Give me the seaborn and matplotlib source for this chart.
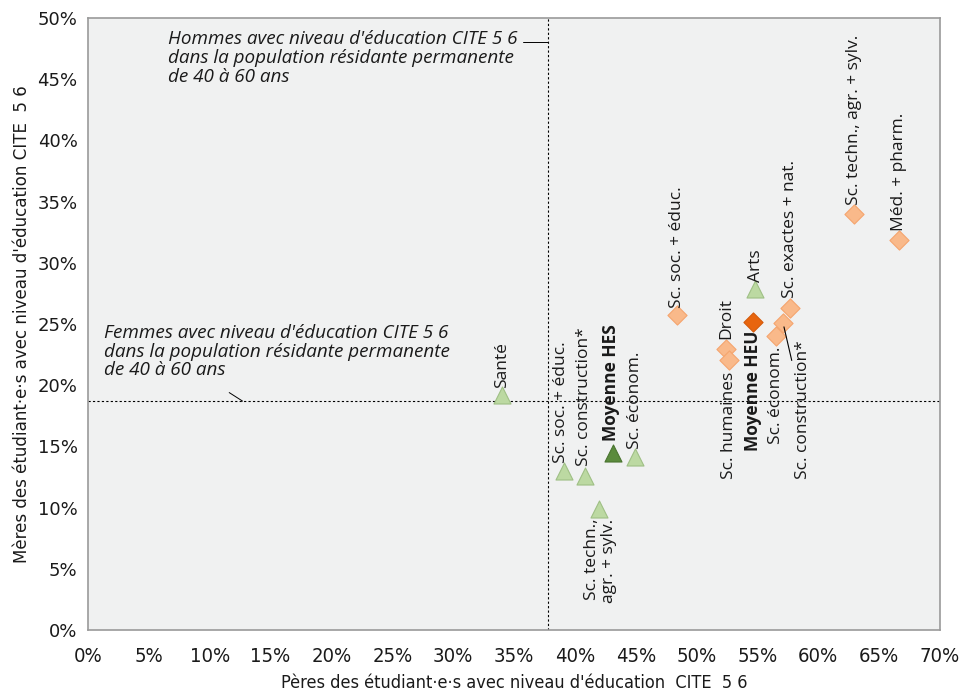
import pandas as pd
import numpy as np
import matplotlib
matplotlib.use('Agg')
import matplotlib.pyplot as plt
from matplotlib.ticker import PercentFormatter
import seaborn as sb

# HES (Hautes écoles spécialisées) - triangles
hes_names = ['Santé', 'Sc. soc. + éduc.', 'Sc. construction*', 'Sc. techn.,\nagr. + sylv.',
             'Moyenne HES', 'Sc. économ.', 'Arts']
hes_peres = [34.0, 39.1, 40.8, 42.0, 43.1, 44.9, 54.8]
hes_meres = [19.2, 13.0, 12.6, 9.9, 14.5, 14.1, 27.9]

# HEU (Hautes écoles universitaires) - diamonds
heu_names = ['Sc. soc. + éduc.', 'Droit', 'Sc. humaines', 'Moyenne HEU', 'Sc. économ.',
             'Sc. construction*', 'Sc. exactes + nat.', 'Sc. techn., agr. + sylv.', 'Méd. + pharm.']
heu_peres = [48.4, 52.4, 52.7, 54.6, 56.5, 57.1, 57.7, 62.9, 66.6]
heu_meres = [25.7, 23.0, 22.1, 25.2, 24.0, 25.1, 26.3, 34.0, 31.9]

hommes_ref = 37.8
femmes_ref = 18.7

# label placement (offset in pixels, above/below)
LBL = {('HES', 'Santé'): (0, 7), ('HES', 'Sc. soc. + éduc.'): (-3, 8),
       ('HES', 'Sc. construction*'): (-1, 10), ('HES', 'Moyenne HES'): (-2, 12),
       ('HES', 'Sc. économ.'): (0, 8), ('HES', 'Sc. techn.,\nagr. + sylv.'): (1, -10),
       ('HES', 'Arts'): (1, 7),
       ('HEU', 'Sc. soc. + éduc.'): (0, 7), ('HEU', 'Droit'): (0, 10),
       ('HEU', 'Sc. humaines'): (0, -12), ('HEU', 'Moyenne HEU'): (0, -9),
       ('HEU', 'Sc. économ.'): (0, -10), ('HEU', 'Sc. construction*'): (20, -17),
       ('HEU', 'Sc. exactes + nat.'): (0, 10), ('HEU', 'Sc. techn., agr. + sylv.'): (0, 9),
       ('HEU', 'Méd. + pharm.'): (0, 9)}

df = pd.concat([
    pd.DataFrame({'TYPE': 'HES', 'NAME': hes_names, 'PERES': hes_peres, 'MERES': hes_meres}),
    pd.DataFrame({'TYPE': 'HEU', 'NAME': heu_names, 'PERES': heu_peres, 'MERES': heu_meres}),
], ignore_index=True)
df['MOY'] = df.NAME.str.startswith('Moyenne')

COLORS = {('HES', False): ('#bcd9a2', '#9fbf85'), ('HES', True): ('#5b8b3d', '#4a7530'),
          ('HEU', False): ('#f9b98a', '#f5a56e'), ('HEU', True): ('#e8650e', '#d45a0a')}
MARKERS = {'HES': '^', 'HEU': 'D'}
SIZES = {'HES': 150, 'HEU': 95}

sb.set_style('white')
plt.rcParams['font.family'] = ['Open Sans', 'DejaVu Sans']

fig = plt.figure(figsize=(9.6, 6.93), dpi=100)
ax = fig.add_axes([0.0917, 0.0909, 0.8875, 0.883])
ax.set_facecolor('#f0f1f1')

for (typ, moy), grp in df.groupby(['TYPE', 'MOY']):
    face, edge = COLORS[(typ, moy)]
    sb.scatterplot(data=grp, x='PERES', y='MERES', marker=MARKERS[typ], s=SIZES[typ],
                   color=face, edgecolor=edge, linewidth=0.8, zorder=3, ax=ax, legend=False)

for _, r in df.iterrows():
    dx, dy = LBL[(r.TYPE, r.NAME)]
    kw = dict(rotation=90, ha='center', va='bottom' if dy > 0 else 'top',
              fontsize=12.5, fontweight='bold' if r.MOY else 'normal', linespacing=1.05,
              multialignment='right' if dy < 0 else 'left', color='#1a1a1a', zorder=4)
    if r.NAME == 'Sc. construction*' and r.TYPE == 'HEU':
        ax.annotate(r.NAME, xy=(r.PERES, r.MERES), xytext=(dx, dy), textcoords='offset pixels',
                    arrowprops=dict(arrowstyle='-', color='black', lw=0.8, shrinkA=0, shrinkB=3), **kw)
    else:
        ax.annotate(r.NAME, xy=(r.PERES, r.MERES), xytext=(dx, dy), textcoords='offset pixels', **kw)

ax.axvline(hommes_ref, color='black', lw=0.8, ls=(0, (2, 2)), zorder=2)
ax.axhline(femmes_ref, color='black', lw=0.8, ls=(0, (2, 2)), zorder=2)

ax.text(6.6, 49.0, "Hommes avec niveau d'éducation CITE 5 6\ndans la population résidante permanente\nde 40 à 60 ans",
        style='italic', fontsize=13.6, va='top', ha='left', linespacing=1.05, color='#1a1a1a')
ax.plot([35.7, hommes_ref], [48.05, 48.05], color='black', lw=0.7)
ax.text(1.3, 25.0, "Femmes avec niveau d'éducation CITE 5 6\ndans la population résidante permanente\nde 40 à 60 ans",
        style='italic', fontsize=13.6, va='top', ha='left', linespacing=1.05, color='#1a1a1a')
ax.plot([11.6, 12.7], [19.4, femmes_ref], color='black', lw=0.7)

ax.set_xlim(0, 70)
ax.set_ylim(0, 50)
ax.set_xticks(np.arange(0, 71, 5))
ax.set_yticks(np.arange(0, 51, 5))
ax.xaxis.set_major_formatter(PercentFormatter(decimals=0))
ax.yaxis.set_major_formatter(PercentFormatter(decimals=0))
for sp in ax.spines.values():
    sp.set_color('#9a9a9a')
    sp.set_linewidth(1.2)
ax.tick_params(axis='both', direction='out', length=4, width=1, color='#9a9a9a',
               labelcolor='#1a1a1a')
ax.tick_params(axis='x', pad=8)
for lbl in ax.get_yticklabels():
    lbl.set_family('DejaVu Sans')
    lbl.set_fontsize(13)
for lbl in ax.get_xticklabels():
    lbl.set_family('DejaVu Sans')
    lbl.set_fontstretch('condensed')
    lbl.set_fontsize(14.5)

ax.set_xlabel("Pères des étudiant·e·s avec niveau d'éducation  CITE  5 6", fontsize=13,
              family='DejaVu Sans', fontstretch='condensed', labelpad=6, color='#1a1a1a')
ax.set_ylabel("Mères des étudiant·e·s avec niveau d'éducation CITE  5 6", fontsize=13.3,
              family='DejaVu Sans', fontstretch='condensed', labelpad=5, color='#1a1a1a')

plt.savefig('out.png', dpi=100)
